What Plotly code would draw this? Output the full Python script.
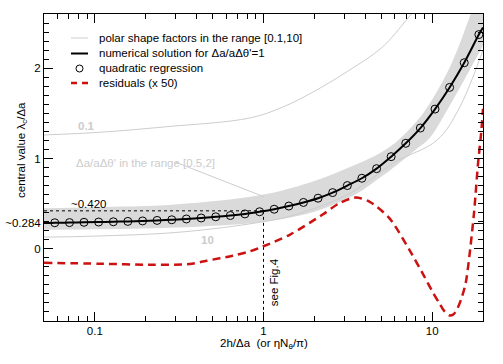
import math
import plotly.graph_objects as go

# ---- data ----
fit_x = [0.0579, 0.0708, 0.0863, 0.1054, 0.1288, 0.157, 0.192, 0.234, 0.286, 0.349,
         0.427, 0.521, 0.636, 0.776, 0.948, 1.157, 1.413, 1.725, 2.105, 2.57,
         3.14, 3.83, 4.68, 5.71, 6.97, 8.51, 10.39, 12.68, 15.48, 18.9]
fit_y = [0.288, 0.290, 0.293, 0.296, 0.299, 0.303, 0.308, 0.314, 0.321, 0.330,
         0.341, 0.354, 0.368, 0.386, 0.410, 0.438, 0.473, 0.513, 0.560, 0.622,
         0.700, 0.781, 0.887, 1.020, 1.168, 1.337, 1.547, 1.787, 2.060, 2.372]

num_x = [0.05] + fit_x + [20.0]
num_y = [0.284] + fit_y + [2.45]

band_x = [0.05, 0.1, 0.3, 1.0, 2.0, 3.5, 5.0, 6.1, 8.0, 9.6, 13.0, 16.9, 20.0]
band_upper = [0.45, 0.46, 0.49, 0.60, 0.75, 0.93, 1.07, 1.18, 1.40, 1.60, 2.05, 2.60, 3.00]
band_lower = [0.21, 0.215, 0.235, 0.30, 0.41, 0.60, 0.80, 0.92, 1.10, 1.22, 1.62, 2.00, 2.25]

sf01_x = [0.05, 0.107, 0.26, 0.826, 1.3, 2.06, 3.23, 5.06, 7.0, 7.6]
sf01_y = [1.26, 1.29, 1.35, 1.448, 1.569, 1.757, 1.978, 2.232, 2.53, 2.61]

sf10_x = [0.05, 0.1, 0.3, 0.83, 1.5, 3.3, 5.9, 10.7, 14.4, 20.0]
sf10_y = [0.129, 0.14, 0.18, 0.276, 0.37, 0.62, 0.95, 1.204, 1.55, 2.2]

res_x = [0.05, 0.107, 0.22, 0.365, 0.46, 0.656, 0.826, 0.99, 1.43, 2.23, 2.82, 3.5,
         4.24, 5.57, 7.31, 8.97, 10.0, 11.0, 11.8, 12.6, 13.3, 14.0, 14.9, 15.8, 16.6,
         17.7, 18.7, 19.5, 20.0]
res_y = [-0.155, -0.166, -0.177, -0.169, -0.133, -0.077, -0.03, 0.025, 0.155, 0.376, 0.505, 0.567,
         0.523, 0.339, -0.01, -0.306, -0.47, -0.60, -0.69, -0.737, -0.73, -0.674, -0.55, -0.379, -0.085,
         0.40, 0.95, 1.28, 1.55]

ref_x = 1.0
ref_y = 0.420

x_major = [0.1, 1, 10]
x_major_text = ["0.1", "1", "10"]
x_minor = [0.06, 0.07, 0.08, 0.09, 0.2, 0.3, 0.4, 0.5, 0.6, 0.7, 0.8, 0.9,
           2, 3, 4, 5, 6, 7, 8, 9, 20]
y_major = [0, 0.284, 1, 2]
y_major_text = ["0", "~0.284", "1", "2"]

legend_labels = ["polar shape factors in the range [0.1,10]",
                 "numerical solution for Δa/aΔθ'=1",
                 "quadratic regression",
                 "residuals (x 50)"]

FONT = "Liberation Sans, Arial, Helvetica, sans-serif"
FS = 11.5
GRAY_LINE = "#cdcdcd"
BAND = "#dadada"
RED = "#cc1111"

# plot-area geometry (pixels) used to place paper-referenced items
W, H = 503, 364
ML, MR, MT, MB = 44, 20, 14, 43
PW, PH = W - ML - MR, H - MT - MB


def px(xp):
    return (xp - ML) / PW


def py(yp):
    return (H - MB - yp) / PH


fig = go.Figure()

# gray band
fig.add_trace(go.Scatter(x=band_x, y=band_lower, mode="lines", line=dict(width=0, color=BAND, shape="spline"),
                         showlegend=False, hoverinfo="skip"))
fig.add_trace(go.Scatter(x=band_x, y=band_upper, mode="lines", line=dict(width=0, color=BAND, shape="spline"),
                         fill="tonexty", fillcolor=BAND, showlegend=False, hoverinfo="skip"))

# polar shape factor curves
fig.add_trace(go.Scatter(x=sf01_x, y=sf01_y, mode="lines", line=dict(color=GRAY_LINE, width=1, shape="spline"),
                         showlegend=False))
fig.add_trace(go.Scatter(x=sf10_x, y=sf10_y, mode="lines", line=dict(color=GRAY_LINE, width=1, shape="spline"),
                         showlegend=False))

# pointer line for band label
fig.add_trace(go.Scatter(x=[0.30, 1.0], y=[0.96, 0.578], mode="lines",
                         line=dict(color=GRAY_LINE, width=1), showlegend=False, hoverinfo="skip"))

# dotted reference lines
fig.add_trace(go.Scatter(x=[0.05, ref_x], y=[ref_y, ref_y], mode="lines",
                         line=dict(color="black", width=1, dash="dot"), showlegend=False))
fig.add_trace(go.Scatter(x=[ref_x, ref_x], y=[ref_y, -0.8], mode="lines",
                         line=dict(color="black", width=1, dash="dot"), showlegend=False))

# numerical solution
fig.add_trace(go.Scatter(x=num_x, y=num_y, mode="lines", line=dict(color="black", width=2, shape="spline"),
                         showlegend=False))
# quadratic regression
fig.add_trace(go.Scatter(x=fit_x, y=fit_y, mode="markers",
                         marker=dict(symbol="circle-open", size=8, color="black", line=dict(width=1)),
                         showlegend=False))
# residuals
fig.add_trace(go.Scatter(x=res_x, y=res_y, mode="lines",
                         line=dict(color=RED, width=2.5, dash="8px,5px", shape="spline", smoothing=0.8),
                         showlegend=False))

# in-plot labels
annos = [
    dict(x=0.0897, y=1.36, text="<b>0.1</b>", font=dict(color="#cccccc", size=FS)),
    dict(x=0.466, y=0.10, text="<b>10</b>", font=dict(color="#cccccc", size=FS)),
    dict(x=0.2, y=0.95, text="Δa/aΔθ' in the range [0.5,2]", font=dict(color="#cccccc", size=FS)),
    dict(x=0.092, y=0.494, text="~0.420", font=dict(color="black", size=FS)),
    dict(x=1.146, y=-0.365, text="see Fig.4", textangle=-90, font=dict(color="black", size=FS)),
]
for a in annos:
    a.update(xref="x", yref="y", showarrow=False)
    a["x"] = math.log10(a["x"])
    fig.add_annotation(**a)

# axis titles
fig.add_annotation(xref="paper", yref="paper", x=0.5, y=py(344), text="2h/Δa  (or ηN<sub>θ</sub>/π)",
                   showarrow=False, font=dict(size=FS), xanchor="center", yanchor="middle")
fig.add_annotation(xref="paper", yref="paper", x=px(22), y=py(150), text="central value λ<sub>c</sub>/Δa",
                   showarrow=False, font=dict(size=FS), textangle=-90, xanchor="center", yanchor="middle")

# hand-drawn legend
rows = [38, 53.5, 68.5, 83]
fig.add_shape(type="line", xref="paper", yref="paper", x0=px(71), x1=px(88), y0=py(rows[0]), y1=py(rows[0]),
              line=dict(color=GRAY_LINE, width=1))
fig.add_shape(type="line", xref="paper", yref="paper", x0=px(71), x1=px(88), y0=py(rows[1]), y1=py(rows[1]),
              line=dict(color="black", width=2))
fig.add_shape(type="circle", xref="paper", yref="paper", x0=px(76), x1=px(83), y0=py(rows[2] - 3.5),
              y1=py(rows[2] + 3.5), line=dict(color="black", width=1))
fig.add_shape(type="line", xref="paper", yref="paper", x0=px(71), x1=px(89), y0=py(rows[3]), y1=py(rows[3]),
              line=dict(color=RED, width=2.5, dash="6px,5px"))
for r, lab in zip(rows, legend_labels):
    fig.add_annotation(xref="paper", yref="paper", x=px(97), y=py(r - 0.5), text=lab, showarrow=False,
                       xanchor="left", yanchor="middle", font=dict(size=FS))

axis_common = dict(showline=True, linecolor="black", linewidth=1, mirror="allticks",
                   ticks="inside", ticklen=9, tickcolor="black", showgrid=False, zeroline=False,
                   automargin=False, tickfont=dict(family=FONT, size=FS, color="black"))

fig.update_xaxes(type="log", range=[math.log10(0.05), math.log10(20)], tickmode="array",
                 tickvals=x_major, ticktext=x_major_text, ticklabelstandoff=-1,
                 minor=dict(ticks="inside", ticklen=5, tickcolor="black", tickvals=x_minor),
                 **axis_common)
fig.update_yaxes(range=[-0.8, 2.6], tickmode="array", tickvals=y_major, ticktext=y_major_text,
                 minor=dict(ticks="inside", ticklen=5, tickcolor="black", dtick=0.1, tick0=0),
                 **axis_common)

fig.update_layout(
    width=W, height=H,
    margin=dict(l=ML, r=MR, t=MT, b=MB),
    paper_bgcolor="white", plot_bgcolor="white",
    font=dict(family=FONT, size=FS, color="black"),
    showlegend=False,
)

fig.write_html("out.html", config={"displayModeBar": False},
               post_script="document.body.style.margin='0';")
